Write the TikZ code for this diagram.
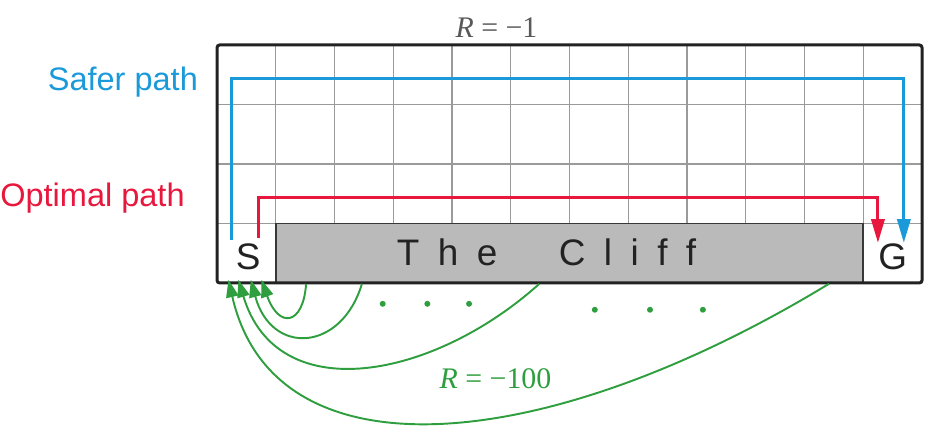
\documentclass[tikz,border=0pt]{standalone}
\usepackage{fontspec}
\setmainfont{Liberation Serif}
\setsansfont{Liberation Sans}
\usetikzlibrary{arrows.meta, calc, positioning}

\definecolor{saferblue}{HTML}{1B9AD9}
\definecolor{optred}{HTML}{E8173E}
\definecolor{fallgreen}{HTML}{2E9E3E}
\definecolor{cliffgray}{HTML}{BABABA}
\definecolor{gridgray}{HTML}{9A9A9A}
\definecolor{framedark}{HTML}{222222}

\newcommand{\lsp}{\hspace{10.5pt}}

\tikzset{
  gridline/.style={gridgray, line width=0.8pt},
  frame/.style={draw=framedark, line width=1.7pt, rounded corners=1.5pt, inner sep=0pt,
    minimum width=14.1cm, minimum height=4.76cm},
  cliffbox/.style={fill=cliffgray, draw=framedark!90, line width=0.9pt, inner sep=0pt,
    minimum width=11.75cm, minimum height=1.19cm},
  cellname/.style={inner sep=0pt, text=framedark, font=\sffamily\fontsize{21}{21}\selectfont},
  pathlabel/.style={inner sep=0pt, font=\sffamily\fontsize{18.5}{18.5}\selectfont},
  reward/.style={inner sep=0pt, font=\rmfamily\fontsize{17}{17}\selectfont},
  saferpath/.style={saferblue, line width=1.7pt, -{Triangle[length=13.5pt, width=7.5pt]}},
  optpath/.style={optred, line width=1.7pt, -{Triangle[length=13.5pt, width=7.5pt]}},
  fall/.style={fallgreen, line width=1.1pt, -{Triangle[length=10pt, width=7pt]}}
}

\begin{document}
\begin{tikzpicture}[x=1.175cm, y=1.19cm]
    \useasboundingbox (-3.694,-2.555) rectangle (12.221,4.756);

    % Grid cells
    \foreach \i in {1,...,11}
        \draw[gridline] (\i,1) -- (\i,4);
    \foreach \j in {1,2,3}
        \draw[gridline] (0,\j) -- (12,\j);

    % Cliff and the two end cells
    \node[cliffbox] (cliff) at (6,0.5) {};
    \node[cellname, anchor=base] (clifflabel) at (5.61,0.30) {T\lsp h\lsp e\hspace{35pt}C\lsp l\lsp i\lsp f\lsp f};
    \node[cellname, anchor=base] (start) at (0.53,0.235) {S};
    \node[cellname, anchor=base] (goal) at (11.5,0.235) {G};
    \node[frame] (grid) at (6,2) {};

    % Rewards
    \node[reward, text=framedark!75, anchor=base] (rstep) at (4.757,4.12) {\textit{R} = −1};
    \node[reward, text=fallgreen, anchor=base] (rfall) at (4.74,-1.765) {\textit{R} = −100};

    % Path labels
    \node[pathlabel, text=saferblue, anchor=base east] (safer) at (-0.32,3.24) {Safer path};
    \node[pathlabel, text=optred, anchor=base east] (optimal) at (-0.545,1.28) {Optimal path};

    % Paths
    \draw[saferpath] ([shift={(-2pt,1.5pt)}]start.north west) -- ++(0,2.72) -| ([xshift=-2pt]goal.north east);
    \draw[optpath] ([shift={(-1.5pt,3pt)}]start.north east) -- ++(0,0.67) -| (goal.north west);

    % Falls back to the start
    \draw[fall] ($(cliff.south west)+(0.53,0)$) .. controls +(-0.05,-0.7) and +(0.3,-0.83) .. ($(grid.south west)+(0.78,0.08)$);
    \draw[fall] ($(cliff.south west)+(1.48,0)$) .. controls +(-0.35,-1.15) and +(0.35,-1.28) .. ($(grid.south west)+(0.60,0.08)$);
    \draw[fall] ($(cliff.south west)+(4.50,0)$) .. controls +(-1.8,-1.6) and +(0.66,-2.18) .. ($(grid.south west)+(0.39,0.08)$);
    \draw[fall] ($(cliff.south west)+(9.43,0)$) .. controls +(-4.83,-2.9) and +(0.78,-3.38) .. ($(grid.south west)+(0.22,0.08)$);

    % Dots
    \foreach \x in {2.82,3.58,4.29}
        \fill[fallgreen] (\x,-0.35) circle (1.7pt);
    \foreach \x in {6.43,7.37,8.27}
        \fill[fallgreen] (\x,-0.45) circle (1.7pt);
\end{tikzpicture}
\end{document}
